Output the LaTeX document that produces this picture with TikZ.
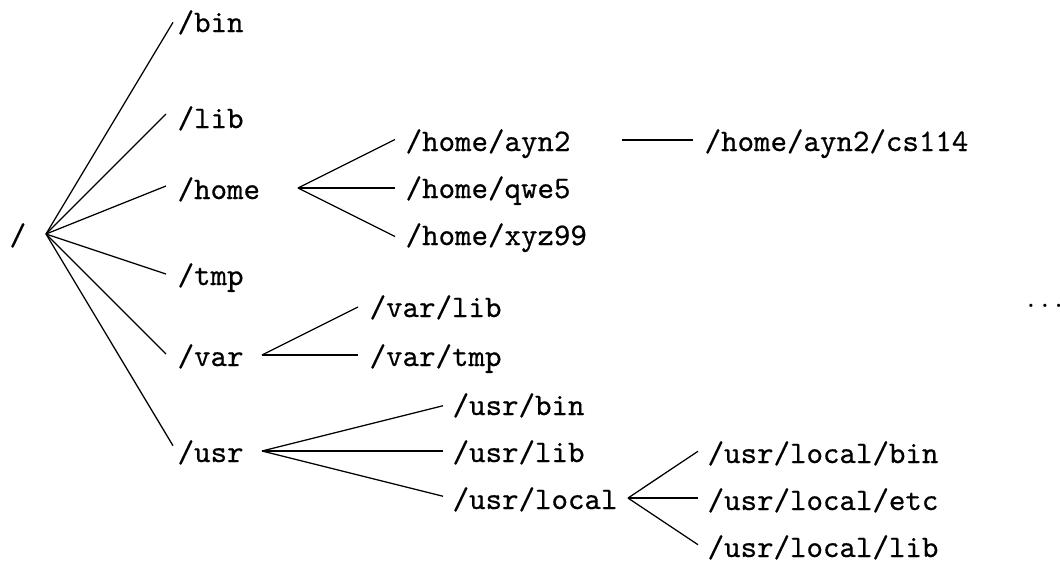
\documentclass[tikz,border=0pt]{standalone}
\usepackage{fontspec}
\setmonofont[FakeBold=0.45]{Latin Modern Mono}
\begin{document}
\begin{tikzpicture}[
    x=0.3185pt, y=-0.3185pt,
    font=\fontsize{10}{12}\selectfont\ttfamily,
    dir/.style={inner sep=0pt, anchor=base west},
    link/.style={line width=0.4pt}
  ]
  \useasboundingbox (0,0) rectangle (1060,562);

  % directory names
  \node[dir] (root)     at (9,245)   {/};
  \node[dir] (bin)      at (177,32)  {/bin};
  \node[dir] (lib)      at (177,128) {/lib};
  \node[dir] (home)     at (177,199) {/home};
  \node[dir] (tmp)      at (177,285) {/tmp};
  \node[dir] (var)      at (177,366) {/var};
  \node[dir] (usr)      at (177,462) {/usr};
  \node[dir] (ayn)      at (405,151) {/home/ayn2};
  \node[dir] (qwe)      at (405,198) {/home/qwe5};
  \node[dir] (xyz)      at (405,245) {/home/xyz99};
  \node[dir] (cs)       at (704,151) {/home/ayn2/cs114};
  \node[dir] (varlib)   at (369,317) {/var/lib};
  \node[dir] (vartmp)   at (369,366) {/var/tmp};
  \node[dir] (usrbin)   at (452,415) {/usr/bin};
  \node[dir] (usrlib)   at (452,462) {/usr/lib};
  \node[dir] (usrlocal) at (452,509) {/usr/local};
  \node[dir] (ulbin)    at (707,463) {/usr/local/bin};
  \node[dir] (uletc)    at (707,510) {/usr/local/etc};
  \node[dir] (ullib)    at (707,557) {/usr/local/lib};
  \node[dir] (more)     at (1026,307) {$\ldots$};

  % branching points
  \coordinate (rootfork)  at (46,234);
  \coordinate (homefork)  at (298,188);
  \coordinate (aynfork)   at (622,140);
  \coordinate (varfork)   at (262,355);
  \coordinate (usrfork)   at (262,451);
  \coordinate (localfork) at (628,498);

  % line ends in front of each child (fixed slopes)
  \path (rootfork) ++(127,-211.7) coordinate (bin-in)
        (rootfork) ++(120,-120)   coordinate (lib-in)
        (rootfork) ++(120,-48)    coordinate (home-in)
        (rootfork) ++(120,40)     coordinate (tmp-in)
        (rootfork) ++(120,120)    coordinate (var-in)
        (rootfork) ++(127,211.7)  coordinate (usr-in);
  \path (homefork) ++(97,-48.5) coordinate (ayn-in)
        (homefork) ++(97,0)     coordinate (qwe-in)
        (homefork) ++(97,48.5)  coordinate (xyz-in);
  \path (aynfork) ++(71,0) coordinate (cs-in);
  \path (varfork) ++(96,-48) coordinate (varlib-in)
        (varfork) ++(96,0)   coordinate (vartmp-in);
  \path (usrfork) ++(181,-45.25) coordinate (usrbin-in)
        (usrfork) ++(181,0)      coordinate (usrlib-in)
        (usrfork) ++(181,45.25)  coordinate (usrlocal-in);
  \path (localfork) ++(70,-46.7) coordinate (ulbin-in)
        (localfork) ++(70,0)     coordinate (uletc-in)
        (localfork) ++(70,46.7)  coordinate (ullib-in);

  % connectors
  \foreach \c in {bin,lib,home,tmp,var,usr}
    \draw[link] (rootfork) -- (\c-in);
  \foreach \c in {ayn,qwe,xyz}
    \draw[link] (homefork) -- (\c-in);
  \draw[link] (aynfork) -- (cs-in);
  \foreach \c in {varlib,vartmp}
    \draw[link] (varfork) -- (\c-in);
  \foreach \c in {usrbin,usrlib,usrlocal}
    \draw[link] (usrfork) -- (\c-in);
  \foreach \c in {ulbin,uletc,ullib}
    \draw[link] (localfork) -- (\c-in);
\end{tikzpicture}
\end{document}
